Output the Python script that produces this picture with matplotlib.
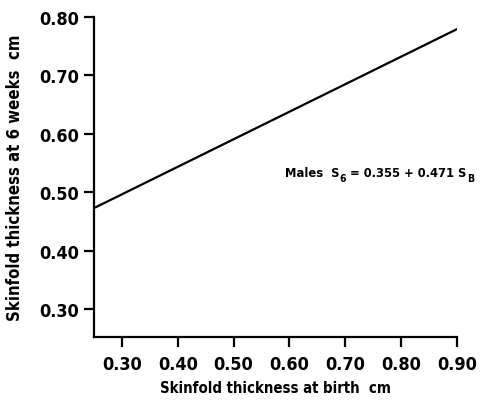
import numpy as np
from matplotlib import pyplot as plt

# regression line for males, S6 = a + b * SB
intercept = 0.355
slope = 0.471
birthRange = [0.25, 0.90]

xTicks = [0.30, 0.40, 0.50, 0.60, 0.70, 0.80, 0.90]
yTicks = [0.30, 0.40, 0.50, 0.60, 0.70, 0.80]

plt.rcParams['font.family'] = ['DejaVu Sans']
plt.rcParams['font.stretch'] = 'condensed'
plt.rcParams['font.weight'] = 'bold'
plt.rcParams['axes.labelweight'] = 'bold'

fig = plt.figure(figsize=(4.85, 4.06), dpi=100)
axes = fig.add_axes([0.194, 0.1675, 0.748, 0.7885])

xs = np.array(birthRange)
axes.plot(xs, intercept + slope * xs, color="black", linewidth=1.6)

axes.set_xlim(0.25, 0.90)
axes.set_ylim(0.252, 0.80)
axes.set_xticks(xTicks)
axes.set_xticklabels(["%.2f" % t for t in xTicks])
axes.set_yticks(yTicks)
axes.set_yticklabels(["%.2f" % t for t in yTicks])

axes.spines["top"].set_visible(False)
axes.spines["right"].set_visible(False)
for side in ["left", "bottom"]:
    axes.spines[side].set_linewidth(1.6)
axes.tick_params(direction="out", length=7, width=1.6, labelsize=13)
axes.tick_params(axis="x", pad=6)
axes.tick_params(axis="y", pad=4)

axes.set_xlabel("Skinfold thickness at birth  cm", fontsize=10.7, labelpad=5)
axes.set_ylabel("Skinfold thickness at 6 weeks  cm", fontsize=12, labelpad=11)

# equation label, subscripts chained as separate texts
mainSize = 9.3
subSize = 7.5
t1 = axes.text(0.592, 0.527, "Males  S", fontsize=mainSize, va="baseline", ha="left")
t2 = axes.annotate("6", xy=(1, 0), xycoords=t1, xytext=(0.1, -2.5),
                   textcoords="offset points", fontsize=subSize, va="bottom")
t3 = axes.annotate(" = 0.355 + 0.471 S", xy=(1, 0), xycoords=(t2, t1),
                   fontsize=mainSize, va="bottom")
t4 = axes.annotate("B", xy=(1, 0), xycoords=t3, xytext=(0.1, -2.5),
                   textcoords="offset points", fontsize=subSize, va="bottom")

fig.savefig("out.png", dpi=100)
